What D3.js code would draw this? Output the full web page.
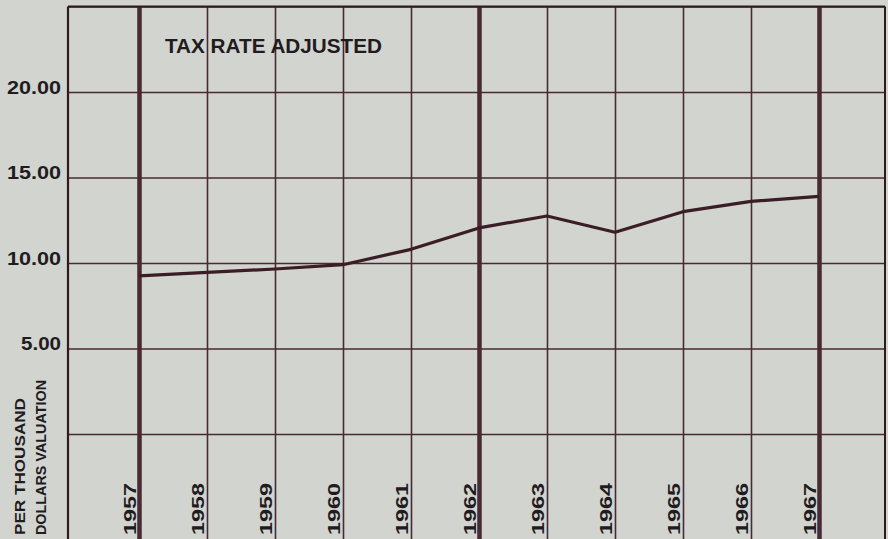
<!DOCTYPE html>
<html>
<head>
<meta charset="utf-8">
<script src="https://cdn.jsdelivr.net/npm/d3@7"></script>
<style>
  html, body { margin: 0; padding: 0; background: #d1d4cf; }
  svg { display: block; }
  .grid line { stroke: #472a32; }
  .grid path { display: none; }
  text { font-family: "Liberation Sans", "DejaVu Sans", sans-serif; font-weight: bold; fill: #221b1e; }
</style>
</head>
<body>
<div id="chart"></div>
<script>
'use strict';

// values
var years = [1957, 1958, 1959, 1960, 1961, 1962, 1963, 1964, 1965, 1966, 1967];
var rates = [9.25, 9.45, 9.65, 9.9, 10.8, 12.05, 12.75, 11.8, 13.0, 13.6, 13.9];
var yTicks = [5, 10, 15, 20];
var heavyYears = [1957, 1962, 1967];
var title = "TAX RATE ADJUSTED";
var unitLines = ["PER THOUSAND", "DOLLARS VALUATION"];

var width = 888, height = 539;

var svg = d3.select("#chart").append("svg")
  .attr("width", width)
  .attr("height", height);

svg.append("rect")
  .attr("width", width).attr("height", height)
  .attr("fill", "#d1d4cf");

// one column per year, plus a blank one each side
var x = d3.scaleLinear().domain([1956, 1968]).range([71, 887]);
var y = d3.scaleLinear().domain([0, 25]).range([434, 6.5]);

var gLeft = 68, gRight = 885, gTop = y(25), gBottom = height;

// horizontal rules (0, 5 ... 25)
svg.append("g")
  .attr("class", "grid")
  .attr("transform", "translate(" + gLeft + ",0)")
  .call(d3.axisRight(y).tickValues([0, 5, 10, 15, 20, 25]).tickSize(gRight - gLeft).tickFormat(""))
  .selectAll("line")
    .attr("stroke-width", 1.7);

// vertical rules, one per year, heavier every five years
var xg = svg.append("g")
  .attr("class", "grid")
  .attr("transform", "translate(0," + gTop + ")")
  .call(d3.axisBottom(x).tickValues(years).tickSize(gBottom - gTop).tickFormat(""));
xg.selectAll(".tick line")
  .attr("stroke-width", function (d) { return heavyYears.indexOf(d) >= 0 ? 4.5 : 1.6; })
  .attr("stroke", function (d) { return heavyYears.indexOf(d) >= 0 ? "#2a1419" : "#472a32"; });

// outer border left / right / top
svg.append("line")
  .attr("x1", gLeft).attr("x2", gLeft).attr("y1", gTop).attr("y2", gBottom)
  .attr("stroke", "#2e1a20").attr("stroke-width", 2.2);
svg.append("line")
  .attr("x1", gRight).attr("x2", gRight).attr("y1", gTop).attr("y2", gBottom)
  .attr("stroke", "#2e1a20").attr("stroke-width", 2);
svg.append("line")
  .attr("x1", gLeft).attr("x2", gRight).attr("y1", gTop).attr("y2", gTop)
  .attr("stroke", "#2e1a20").attr("stroke-width", 2.2);

// y labels
var ya = svg.append("g")
  .attr("transform", "translate(" + (gLeft - 7) + ",0)")
  .call(d3.axisLeft(y).tickValues(yTicks).tickSize(0).tickPadding(0).tickFormat(d3.format(".2f")));
ya.select(".domain").remove();
ya.attr("font-family", null).attr("font-size", null);
ya.selectAll("text")
  .attr("dy", 1)
  .attr("font-size", 18)
  .attr("fill", null)
  .attr("textLength", function (d) { return d >= 10 ? 54 : 40; })
  .attr("lengthAdjust", "spacingAndGlyphs");

// year labels, rotated, sitting just left of each rule
svg.append("g").selectAll("text")
  .data(years)
  .enter().append("text")
    .attr("transform", function (d) { return "translate(" + (x(d) - 3) + "," + 535 + ") rotate(-90)"; })
    .attr("font-size", 16)
    .attr("textLength", 52)
    .attr("lengthAdjust", "spacingAndGlyphs")
    .text(function (d) { return d; });

// unit caption
svg.append("g").selectAll("text")
  .data(unitLines)
  .enter().append("text")
    .attr("transform", function (d, i) { return "translate(" + (25 + i * 21) + ",535) rotate(-90)"; })
    .attr("font-size", 14)
    .attr("textLength", function (d, i) { return i === 0 ? 137 : 155; })
    .attr("lengthAdjust", "spacingAndGlyphs")
    .text(function (d) { return d; });

// title
svg.append("text")
  .attr("x", 165).attr("y", 53)
  .attr("font-size", 20)
  .attr("textLength", 217)
  .attr("lengthAdjust", "spacingAndGlyphs")
  .text(title);

// the tax rate line
var line = d3.line()
  .x(function (d, i) { return x(years[i]); })
  .y(function (d) { return y(d); });

svg.append("path")
  .datum(rates)
  .attr("d", line)
  .attr("fill", "none")
  .attr("stroke", "#3a1d26")
  .attr("stroke-width", 3.2)
  .attr("stroke-linejoin", "round");
</script>
</body>
</html>
